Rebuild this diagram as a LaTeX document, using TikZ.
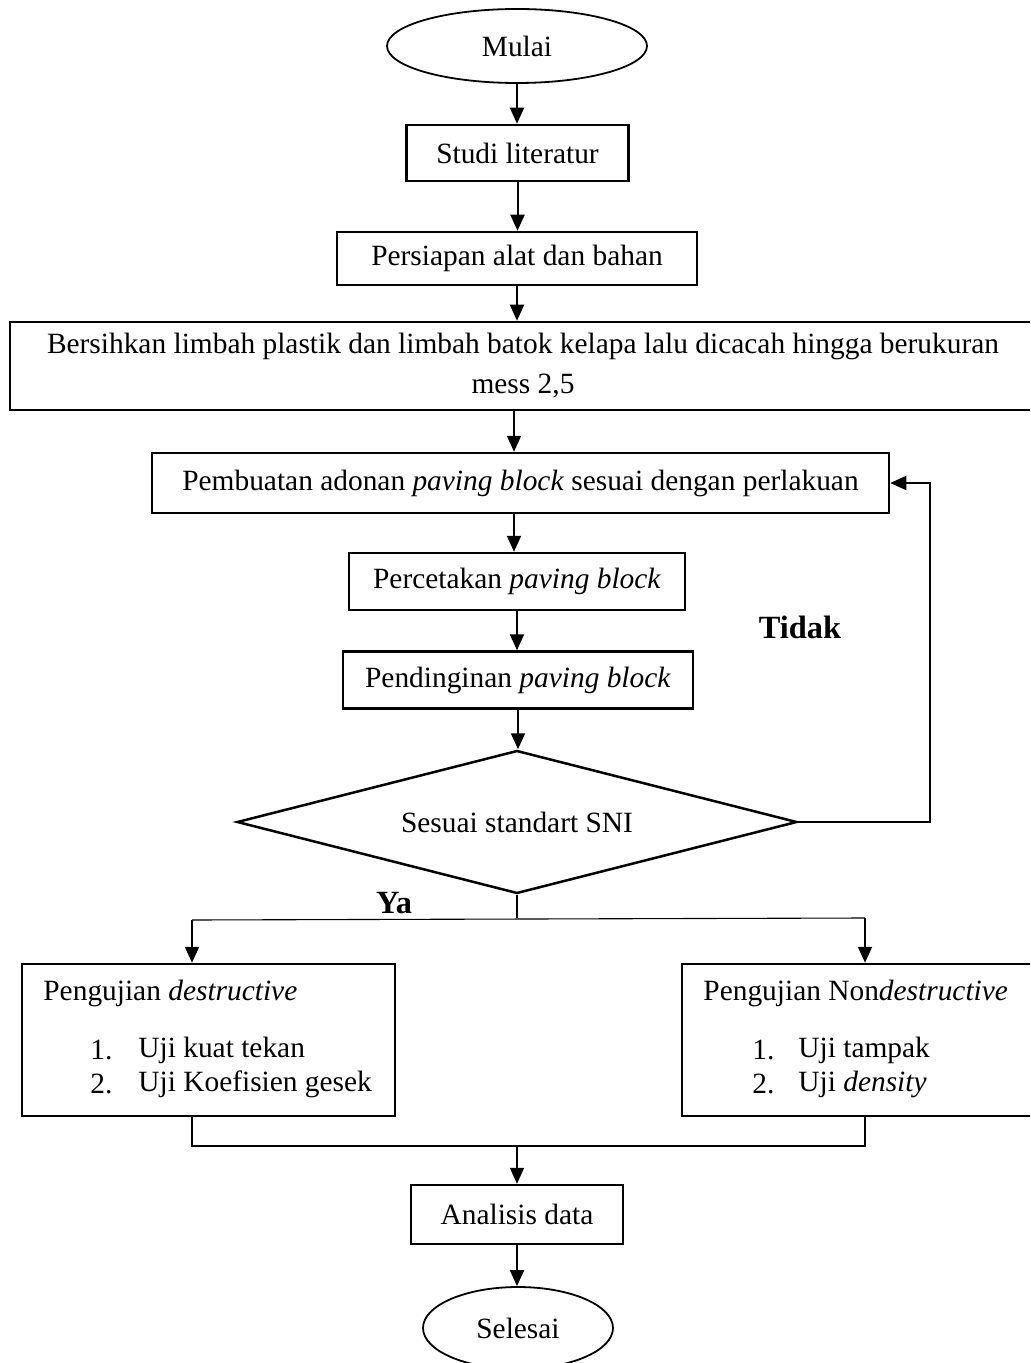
\documentclass[tikz,border=0pt]{standalone}
\usepackage{fontspec}
\setmainfont{Liberation Serif}
\usetikzlibrary{shapes.geometric,arrows.meta}
\begin{document}
\begin{tikzpicture}[x=0.5pt,y=-0.5pt,
  every node/.style={font=\fontsize{14.7}{20}\selectfont},
  box/.style={draw,line width=1.25pt,rectangle,inner sep=0pt,align=center},
  oval/.style={draw,line width=0.9pt,ellipse,inner sep=0pt},
  arr/.style={line width=1pt,-{Triangle[length=8pt,width=7pt]}},
  thinl/.style={line width=0.55pt},
  lbl/.style={font=\fontsize{16.2}{20}\selectfont\bfseries},
  txt/.style={inner sep=0pt,anchor=west}]
\useasboundingbox (0,0) rectangle (1030,1363);
\begin{scope}
\clip (0,0) rectangle (1030,1363);
\node[oval,minimum width=130pt,minimum height=37pt] (mulai) at (517,46) {Mulai};
\node[box,minimum width=111pt,minimum height=28pt] (studi) at (517.5,153) {Studi literatur};
\node[box,minimum width=180pt,minimum height=26.5pt] (persiapan) at (517,258.5) {Persiapan alat dan bahan};
\node[box,minimum width=513pt,minimum height=44pt] (bersih) at (523,366) {Bersihkan limbah plastik dan limbah batok kelapa lalu dicacah hingga berukuran\\ mess 2,5};
\node[box,minimum width=368.5pt,minimum height=30pt] (pembuatan) at (520.5,483) {Pembuatan adonan \textit{paving block} sesuai dengan perlakuan};
\node[box,minimum width=168pt,minimum height=28.5pt] (cetak) at (517,581.5) {Percetakan \textit{paving block}};
\node[box,minimum width=175pt,minimum height=28.5pt] (dingin) at (518,680) {Pendinginan \textit{paving block}};
\node[draw,line width=1.25pt,diamond,shape aspect=4,inner sep=0pt,minimum width=280pt,minimum height=71.5pt] (sni) at (517,822) {Sesuai standart SNI};
\node[box,minimum width=186.5pt,minimum height=76pt] (lbox) at (208.5,1040) {};
\node[box,minimum width=177pt,minimum height=76pt] (rbox) at (859,1040) {};
\node[box,minimum width=106pt,minimum height=29.5pt] (analisis) at (517,1214.5) {Analisis data};
\node[oval,minimum width=95pt,minimum height=41pt] (selesai) at (518,1328) {Selesai};
% texts in lower boxes
\node[txt] (l0) at (43,993) {Pengujian \textit{destructive}};
\node[txt] (l1n) at (90,1050) {1.};
\node[txt] (l1) at (138,1050) {Uji kuat tekan};
\node[txt] (l2n) at (90,1084) {2.};
\node[txt] (l2) at (138,1084) {Uji Koefisien gesek};
\node[txt] (r0) at (703,993) {Pengujian Non\textit{destructive}};
\node[txt] (r1n) at (752,1050) {1.};
\node[txt] (r1) at (798,1050) {Uji tampak};
\node[txt] (r2n) at (752,1084) {2.};
\node[txt] (r2) at (798,1084) {Uji \textit{density}};
% labels
\node[lbl] (tidak) at (800,627) {Tidak};
\node[lbl] (ya) at (394,903) {Ya};
% connectors
\draw[arr] (mulai) -- (mulai |- studi.north);
\draw[arr] (studi) -- (studi |- persiapan.north);
\draw[arr] (persiapan) -- (persiapan |- bersih.north);
\coordinate (c1) at (514,410);
\draw[arr] (c1) -- (c1 |- pembuatan.north);
\coordinate (c2) at (514,514);
\draw[arr] (c2) -- (c2 |- cetak.north);
\draw[arr] (cetak) -- (cetak |- dingin.north);
\draw[arr] (dingin) -- (dingin |- sni.north);
\coordinate (loopR) at (930,822);
\draw[thinl] (sni.east) -- (loopR) -- (loopR |- pembuatan.east) -- ++(-20,0);
\draw[arr] (loopR |- pembuatan.east) -- (pembuatan.east);
\coordinate (split) at (517,918);
\coordinate (yaL) at (192,920);
\coordinate (yaR) at (865,918);
\draw[thinl] (sni.south) -- (split);
\draw[thinl] (yaL) -- (yaR);
\draw[arr] (yaL) -- (yaL |- lbox.north);
\draw[arr] (yaR) -- (yaR |- rbox.north);
\coordinate (jL) at (192,1146);
\coordinate (jR) at (865,1146);
\draw[thinl] (jL |- lbox.south) -- (jL) -- (jR) -- (jR |- rbox.south);
\draw[arr] (analisis |- jL) -- (analisis.north);
\draw[arr] (analisis) -- (analisis |- selesai.north);
\end{scope}
\end{tikzpicture}
\end{document}
